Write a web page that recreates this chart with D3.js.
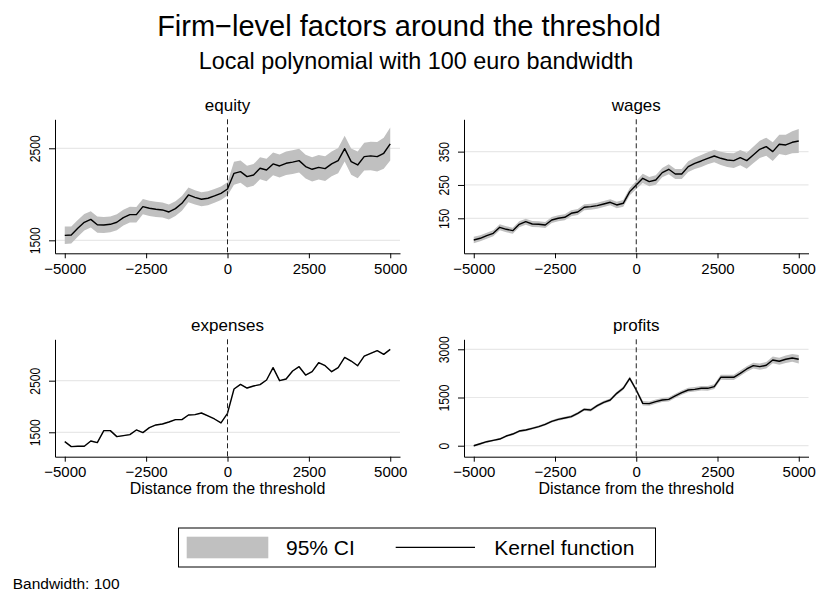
<!DOCTYPE html>
<html>
<head>
<meta charset="utf-8">
<script src="https://cdn.jsdelivr.net/npm/d3@7"></script>
<style>
  body { margin: 0; background: #fff; }
</style>
</head>
<body>
<svg id="chart" width="818" height="593"></svg>
<script>
// Firm-level factors around the threshold: 2x2 panels, kernel line + 95% CI band.

// bin centres, distance from the threshold (euro)
const distance = [
  -5000, -4800, -4600, -4400, -4200, -4000, -3800, -3600, -3400, -3200, -3000,
  -2800, -2600, -2400, -2200, -2000, -1800, -1600, -1400, -1200, -1000,
  -800, -600, -400, -200, 0, 200, 400, 600, 800, 1000,
  1200, 1400, 1600, 1800, 2000, 2200, 2400, 2600, 2800, 3000,
  3200, 3400, 3600, 3800, 4000, 4200, 4400, 4600, 4800, 5000,
];

const equity = [
  1554, 1558, 1630, 1696, 1728, 1670, 1667, 1674, 1696, 1746, 1779,
  1779, 1866, 1848, 1837, 1830, 1808, 1844, 1902, 1993, 1967,
  1946, 1957, 1982, 2011, 2058, 2228, 2246, 2192, 2210, 2283,
  2264, 2330, 2308, 2337, 2350, 2366, 2301, 2272, 2293, 2279,
  2330, 2366, 2496, 2355, 2319, 2409, 2417, 2409, 2446, 2547,
];
const equityCI = [
  95, 92, 90, 90, 88, 88, 87, 86, 86, 85, 85,
  84, 84, 83, 83, 82, 82, 81, 80, 80, 78,
  77, 76, 75, 73, 72, 125, 120, 118, 118, 120,
  122, 123, 125, 127, 128, 130, 130, 132, 133, 134,
  135, 137, 140, 142, 145, 150, 155, 160, 168, 180,
];

const wages = [
  85, 90, 98, 105, 123, 117, 113, 132, 140, 133, 132,
  130, 145, 150, 153, 165, 169, 183, 185, 188, 193,
  198, 190, 195, 230, 250, 270, 260, 265, 287, 297,
  283, 283, 305, 315, 322, 330, 337, 330, 325, 323,
  332, 323, 340, 357, 365, 350, 372, 370, 378, 382,
];
const wagesCI = [
  10, 9, 9, 9, 9, 9, 9, 9, 9, 9, 9,
  9, 9, 9, 9, 9, 9, 9, 9, 9, 9,
  9, 10, 10, 11, 12, 14, 14, 14, 14, 15,
  15, 15, 16, 17, 18, 18, 19, 20, 21, 22,
  23, 24, 25, 26, 27, 28, 29, 31, 33, 36,
];

const expenses = [
  1319, 1223, 1229, 1229, 1332, 1300, 1532, 1532, 1416, 1435, 1455,
  1545, 1494, 1590, 1642, 1661, 1700, 1745, 1745, 1835, 1842,
  1874, 1816, 1758, 1681, 1868, 2339, 2429, 2358, 2397, 2423,
  2513, 2752, 2500, 2532, 2687, 2771, 2610, 2674, 2848, 2790,
  2674, 2752, 2952, 2881, 2790, 2977, 3029, 3081, 3010, 3106,
];
const expensesCI = [
  10, 10, 10, 10, 10, 10, 10, 10, 10, 10, 10,
  10, 10, 10, 10, 10, 10, 10, 10, 10, 10,
  10, 10, 10, 10, 10, 12, 12, 12, 12, 12,
  12, 12, 12, 12, 12, 12, 12, 12, 12, 12,
  12, 12, 12, 12, 12, 12, 12, 12, 12, 12,
];

const profits = [
  0, 62, 125, 166, 208, 301, 363, 457, 488, 540, 592,
  665, 758, 820, 862, 903, 1007, 1132, 1111, 1246, 1350,
  1422, 1630, 1786, 2097, 1734, 1318, 1308, 1370, 1422, 1443,
  1547, 1651, 1734, 1754, 1786, 1786, 1837, 2128, 2128, 2128,
  2253, 2388, 2491, 2460, 2502, 2668, 2627, 2689, 2730, 2689,
];
const profitsCI = [
  30, 30, 30, 31, 32, 33, 34, 35, 35, 36, 37,
  38, 38, 40, 40, 42, 42, 44, 45, 46, 48,
  50, 52, 55, 60, 62, 70, 68, 66, 65, 65,
  66, 67, 68, 70, 72, 74, 76, 78, 80, 82,
  85, 88, 92, 96, 100, 105, 110, 115, 120, 130,
];

const panelTitles = ["equity", "wages", "expenses", "profits"];
const xTicks = [-5000, -2500, 0, 2500, 5000];
const xDomain = [-5300, 5300];
const equityTicks = [1500, 2500];
const wagesTicks = [150, 250, 350];
const expensesTicks = [1500, 2500];
const profitsTicks = [0, 1500, 3000];
const legendLabels = ["95% CI", "Kernel function"];

const FONT = "'Liberation Sans', Arial, Helvetica, sans-serif";
const BAND = "#c0c0c0", GRID = "#e8e8e8";

// plot regions
const COLS = [{ left: 55, right: 400 }, { left: 464, right: 808.5 }];
const ROWS = [{ top: 119.3, bottom: 253.3 }, { top: 339.3, bottom: 456.7 }];

const panels = [
  { title: panelTitles[0], values: equity,   ci: equityCI,   ticks: equityTicks,   yDomain: [1359, 2815], col: 0, row: 0 },
  { title: panelTitles[1], values: wages,    ci: wagesCI,    ticks: wagesTicks,    yDomain: [45, 447],    col: 1, row: 0 },
  { title: panelTitles[2], values: expenses, ci: expensesCI, ticks: expensesTicks, yDomain: [1027, 3302], col: 0, row: 1 },
  { title: panelTitles[3], values: profits,  ci: profitsCI,  ticks: profitsTicks,  yDomain: [-342, 3311], col: 1, row: 1 },
];

const svg = d3.select("#chart");
svg.append("rect").attr("width", 818).attr("height", 593).attr("fill", "#fff");

svg.append("text").attr("x", 409).attr("y", 36).attr("text-anchor", "middle")
  .style("font", `29px ${FONT}`).style("fill", "#000")
  .text("Firm\u2212level factors around the threshold");
svg.append("text").attr("x", 416).attr("y", 69).attr("text-anchor", "middle")
  .style("font", `23.4px ${FONT}`).style("fill", "#000")
  .text("Local polynomial with 100 euro bandwidth");

panels.forEach((p) => {
  const c = COLS[p.col], r = ROWS[p.row];
  const x = d3.scaleLinear().domain(xDomain).range([c.left, c.right]);
  const y = d3.scaleLinear().domain(p.yDomain).range([r.bottom, r.top]);
  const rows = distance.map((d, i) => ({ d, v: p.values[i], lo: p.values[i] - p.ci[i], hi: p.values[i] + p.ci[i] }));
  const g = svg.append("g");

  // gridlines
  g.selectAll("line.grid").data(p.ticks).enter().append("line")
    .attr("x1", c.left).attr("x2", c.right)
    .attr("y1", (t) => y(t)).attr("y2", (t) => y(t))
    .attr("stroke", GRID).attr("stroke-width", 1.2);

  // CI band + kernel line
  g.append("path").datum(rows)
    .attr("fill", BAND)
    .attr("d", d3.area().x((q) => x(q.d)).y0((q) => y(q.lo)).y1((q) => y(q.hi)));
  g.append("path").datum(rows)
    .attr("fill", "none").attr("stroke", "#000").attr("stroke-width", 1.4)
    .attr("stroke-linejoin", "round")
    .attr("d", d3.line().x((q) => x(q.d)).y((q) => y(q.v)));

  // threshold
  g.append("line")
    .attr("x1", x(0)).attr("x2", x(0)).attr("y1", r.top).attr("y2", r.bottom)
    .attr("stroke", "#222").attr("stroke-width", 1).attr("stroke-dasharray", "5,3");

  // axes
  g.append("g").attr("transform", `translate(0,${r.bottom})`)
    .call(d3.axisBottom(x).tickValues(xTicks).tickSize(5).tickPadding(5).tickSizeOuter(0).tickFormat(d3.format("d")))
    .call((s) => s.selectAll("path,line").attr("stroke", "#000"))
    .call((s) => s.selectAll("text").style("font", `15px ${FONT}`).style("fill", "#000"));
  g.append("g").attr("transform", `translate(${c.left},0)`)
    .call(d3.axisLeft(y).tickValues(p.ticks).tickSize(6).tickSizeOuter(0).tickFormat(d3.format("d")))
    .call((s) => s.selectAll("path,line").attr("stroke", "#000"))
    .call((s) => s.selectAll("text")
      .attr("x", 0).attr("y", -15).attr("dy", null)
      .attr("text-anchor", "middle")
      .attr("transform", "rotate(-90) scale(0.87,1)")
      .style("font", `14px ${FONT}`).style("fill", "#000"));

  g.append("text").attr("x", (c.left + c.right) / 2).attr("y", r.top - 8)
    .attr("text-anchor", "middle")
    .style("font", `17px ${FONT}`).style("fill", "#000")
    .text(p.title);

  if (p.row === 1) {
    g.append("text").attr("x", (c.left + c.right) / 2).attr("y", r.bottom + 37.5)
      .attr("text-anchor", "middle")
      .style("font", `16px ${FONT}`).style("fill", "#000")
      .text("Distance from the threshold");
  }
});

// legend
const lg = svg.append("g");
lg.append("rect").attr("x", 178.5).attr("y", 528).attr("width", 477).attr("height", 39)
  .attr("fill", "#fff").attr("stroke", "#000").attr("stroke-width", 1);
lg.append("rect").attr("x", 186.7).attr("y", 536.7).attr("width", 81.6).attr("height", 21.6)
  .attr("fill", BAND);
lg.append("line").attr("x1", 395.7).attr("x2", 475).attr("y1", 547.3).attr("y2", 547.3)
  .attr("stroke", "#000").attr("stroke-width", 1.3);
lg.selectAll("text.leg").data(legendLabels).enter().append("text")
  .attr("x", (d, i) => [286, 494.3][i]).attr("y", 555)
  .style("font", `21px ${FONT}`).style("fill", "#000")
  .text((d) => d);

svg.append("text").attr("x", 12.7).attr("y", 589)
  .style("font", `15.5px ${FONT}`).style("fill", "#000")
  .text("Bandwidth: 100");
</script>
</body>
</html>
